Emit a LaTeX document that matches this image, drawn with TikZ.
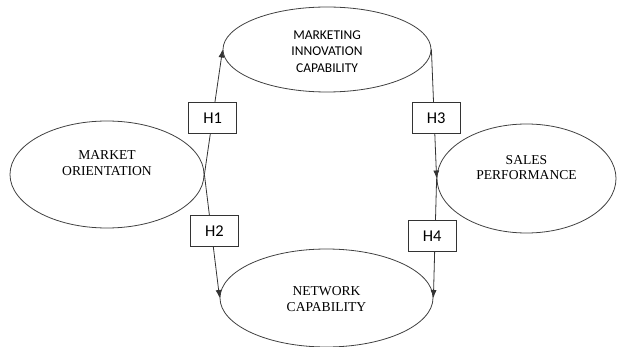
\documentclass[tikz,border=0pt]{standalone}
\usepackage{fontspec}
\setmainfont{Liberation Serif}
\newfontfamily\timesfont{Liberation Serif}
\newfontfamily\calibri{Carlito}
\usepackage{tikz}
\usetikzlibrary{arrows.meta,shapes.geometric}

\tikzset{
    construct/.style={ellipse,draw=black!75,line width=0.8pt,inner sep=0pt},
    ctext/.style={font=\timesfont\fontsize{13.6}{15.7}\selectfont,align=center},
    hbox/.style={draw=black!80,fill=white,line width=0.8pt,minimum width=48pt,
        minimum height=31pt,inner sep=0pt,font=\calibri\fontsize{16.5}{18}\selectfont},
    path/.style={draw=black!80,line width=0.8pt,-{Latex[length=8pt,width=6pt]}}
}

\begin{document}
\begin{tikzpicture}[x=1pt,y=-1pt]
    \useasboundingbox (0,0) rectangle (617,347);

    % constructs
    \node[construct,minimum width=194pt,minimum height=107pt] (mo) at (107,174.5) {};
    \node[construct,minimum width=208pt,minimum height=85pt] (mic) at (327,49.5) {};
    \node[construct,minimum width=179pt,minimum height=109pt] (sp) at (526.5,178.5) {};
    \node[construct,minimum width=213pt,minimum height=98pt] (nc) at (326.5,298) {};

    \node[ctext] (mo-txt) at (107,163) {MARKET\\ORIENTATION};
    \node[align=center,font=\calibri\fontsize{13.5}{16.5}\selectfont] (mic-txt) at (327,51.5)
        {MARKETING\\INNOVATION\\CAPABILITY};
    \node[ctext] (sp-txt) at (526.5,167.5) {SALES\\PERFORMANCE};
    \node[ctext] (nc-txt) at (326.5,299) {NETWORK\\CAPABILITY};

    % hypotheses
    \draw[path] (mo.east) -- node[hbox,pos=0.45] (h1) {H1} (mic.west);
    \draw[path] (mo.east) -- node[hbox,pos=0.46,xshift=3pt] (h2) {H2} (nc.west);
    \draw[path] (mic.east) -- node[hbox,pos=0.53,xshift=2pt] (h3) {H3} (sp.west);
    \draw[path] (sp.west) -- node[hbox,pos=0.48,xshift=-3pt] (h4) {H4} (nc.east);
\end{tikzpicture}
\end{document}
